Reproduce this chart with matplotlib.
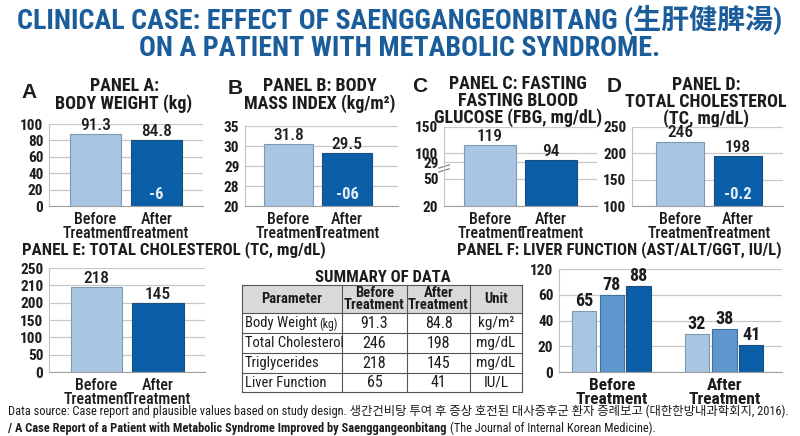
import matplotlib
matplotlib.use("Agg")
import matplotlib.pyplot as plt
from matplotlib import font_manager
from matplotlib.patches import Rectangle

W, H = 800, 436

names = {f.name for f in font_manager.fontManager.ttflist}
NARROW = next((n for n in ["Roboto Condensed", "Archivo Narrow", "Barlow Semi Condensed",
                           "Liberation Sans Narrow", "Liberation Sans"] if n in names), "DejaVu Sans")
WIDE = "Liberation Sans"
CJK_SC = [NARROW, "Noto Sans CJK SC", "DejaVu Sans"]
CJK_KR = [NARROW, "Noto Sans CJK KR", "DejaVu Sans"]
plt.rcParams["font.family"] = [NARROW, "DejaVu Sans"]

LIGHT = "#a8c6e4"
MID = "#5e98cf"
DARK = "#0b5ea8"
TITLE_BLUE = "#1b5c9b"
INK = "#1c1c1c"

groups = ["Before\nTreatment", "After\nTreatment"]

# Panel A: body weight (linear axis)
a_ticks = [0, 20, 40, 60, 80, 100]
a_tick_labels = ["0", "20", "40", "60", "80", "100"]
a_heights = [87.5, 80.0]
a_labels = ["91.3", "84.8"]

# Panel B: BMI (uneven axis, ticks placed evenly)
b_ticks = [0, 1, 2, 3, 4]
b_tick_labels = ["20", "28", "29", "30", "35"]
b_heights = [3.1, 2.65]
b_labels = ["31.8", "29.5"]

# Panel C: fasting blood glucose (broken axis)
c_ticks = [0, 1.03, 1.67, 2.0, 3.0]
c_tick_labels = ["20", "50", "29", "100", "150"]
c_heights = [2.32, 1.75]
c_labels = ["119", "94"]

# Panel D: total cholesterol (linear axis)
d_ticks = [100, 150, 200, 250]
d_tick_labels = ["100", "150", "200", "250"]
d_heights = [222, 195]
d_labels = ["246", "198"]

# Panel E: total cholesterol (uneven axis)
e_ticks = [0, 1, 2, 3, 4, 5, 6]
e_tick_labels = ["0", "50", "100", "150", "200", "210", "250"]
e_heights = [4.9, 3.98]
e_labels = ["218", "145"]

# Panel F: liver function, three enzymes per group
f_ticks = [0, 1, 2, 3, 4]
f_tick_labels = ["0", "20", "40", "60", "120"]
f_before = [2.37, 2.99, 3.34]
f_after = [1.48, 1.67, 1.05]
f_before_labels = ["65", "78", "88"]
f_after_labels = ["32", "38", "41"]

# Summary table
table_header = ["Parameter", "Before\nTreatment", "After\nTreatment", "Unit"]
table_params = ["Body Weight", "Total Cholesterol", "Triglycerides", "Liver Function"]
table_before = ["91.3", "246", "218", "65"]
table_after = ["84.8", "198", "145", "41"]
table_units = ["kg/m²", "mg/dL", "mg/dL", "IU/L"]

fig = plt.figure(figsize=(W / 100, H / 100), dpi=100)
fig.patch.set_facecolor("white")

overlay = fig.add_axes([0, 0, 1, 1], zorder=-1)
overlay.set_xlim(0, W)
overlay.set_ylim(H, 0)
overlay.axis("off")
renderer = fig.canvas.get_renderer()


def px_axes(left, top, right, bottom):
    return fig.add_axes([left / W, 1 - bottom / H, (right - left) / W, (bottom - top) / H])


def fit_width(txt, target):
    # shrink/grow a text so that it spans the width seen in the reference
    w = txt.get_window_extent(renderer).width
    txt.set_fontsize(txt.get_fontsize() * target / w)


def right_px(txt):
    bb = txt.get_window_extent(renderer)
    return overlay.transData.inverted().transform((bb.x1, 0))[0]


def style_axes(ax, ticks, tick_labels, xlim):
    ax.set_xlim(*xlim)
    ax.set_ylim(ticks[0], ticks[-1])
    ax.set_yticks(ticks)
    ax.set_yticklabels(tick_labels, fontsize=11, fontweight="bold", color=INK)
    ax.yaxis.grid(True, color="#c8c8c8", lw=0.9)
    ax.set_axisbelow(True)
    for s in ["top", "right"]:
        ax.spines[s].set_visible(False)
    ax.spines["left"].set_color("#c4c4c4")
    ax.spines["bottom"].set_color("#a0a0a0")
    ax.tick_params(length=0, pad=4)
    ax.set_facecolor("none")


def two_bar_panel(rect, ticks, tick_labels, heights, labels, xlim, width=0.84, inner=None):
    ax = px_axes(*rect)
    style_axes(ax, ticks, tick_labels, xlim)
    bars = ax.bar([0, 1], [h - ticks[0] for h in heights], bottom=ticks[0], width=width,
                  color=[LIGHT, DARK], edgecolor=["#8099b0", "#1d4d7c"], linewidth=0.8)
    for b, lab in zip(bars, labels):
        ax.annotate(lab, (b.get_x() + b.get_width() / 2, b.get_y() + b.get_height()),
                    xytext=(0, 1), textcoords="offset points", ha="center", va="bottom",
                    fontsize=12.5, fontweight="medium", color=INK)
    ax.set_xticks([0, 1])
    ax.set_xticklabels(groups, fontsize=11.5, fontweight="medium", color=INK, linespacing=0.92)
    if inner:
        ax.text(1.0, ticks[0] + (ticks[-1] - ticks[0]) * 0.14, inner, ha="center", va="center",
                fontsize=12, fontweight="bold", color="#e4edf7")
    return ax


ax_a = two_bar_panel((49, 124, 203, 206), a_ticks, a_tick_labels, a_heights, a_labels,
                     (-0.76, 1.76), inner="-6")
ax_b = two_bar_panel((245, 126, 398, 206), b_ticks, b_tick_labels, b_heights, b_labels,
                     (-0.74, 1.87), inner="-06")
ax_c = two_bar_panel((444, 127, 597, 206), c_ticks, c_tick_labels, c_heights, c_labels,
                     (-0.75, 1.75))
ax_d = two_bar_panel((632, 127, 783, 206), d_ticks, d_tick_labels, d_heights, d_labels,
                     (-0.83, 1.78), width=0.83, inner="-0.2")
ax_e = two_bar_panel((49, 268, 205, 372), e_ticks, e_tick_labels, e_heights, e_labels,
                     (-0.77, 1.76))

# axis break marks on panel C
for dy in (0.0, 0.05):
    ax_c.plot([-0.035, 0.035], [0.43 + dy, 0.47 + dy], transform=ax_c.transAxes,
              color="#888888", lw=0.9, clip_on=False)

# Panel F grouped bars
ax_f = px_axes(559, 269, 782, 372)
style_axes(ax_f, f_ticks, f_tick_labels, (-0.47, 1.51))
offsets = [-0.245, 0.0, 0.235]
colors = [LIGHT, MID, DARK]
edges = ["#8099b0", "#3f6f9e", "#1d4d7c"]
for i in range(3):
    bars = ax_f.bar([0 + offsets[i], 1 + offsets[i]], [f_before[i], f_after[i]], width=0.215,
                    color=colors[i], edgecolor=edges[i], linewidth=0.8)
    for b, lab in zip(bars, [f_before_labels[i], f_after_labels[i]]):
        ax_f.annotate(lab, (b.get_x() + b.get_width() / 2, b.get_height()),
                      xytext=(0, 1), textcoords="offset points", ha="center", va="bottom",
                      fontsize=13, fontweight="bold", color=INK)
ax_f.set_xticks([0, 1])
ax_f.set_xticklabels(groups, fontsize=12.5, fontweight="bold", color=INK, linespacing=0.92)

# Titles
t1 = overlay.text(400, 20, "CLINICAL CASE: EFFECT OF SAENGGANGEONBITANG (生肝健脾湯)",
                  ha="center", va="center", fontsize=20, fontweight="bold", color=TITLE_BLUE,
                  family=CJK_SC)
fit_width(t1, 765)
t2 = overlay.text(400, 49, "ON A PATIENT WITH METABOLIC SYNDROME.", ha="center", va="center",
                  fontsize=t1.get_fontsize(), fontweight="bold", color=TITLE_BLUE)

letter_kw = dict(ha="center", va="center", fontsize=15, fontweight="bold", color=INK, family=WIDE)
overlay.text(29, 92, "A", **letter_kw)
overlay.text(235, 88, "B", **letter_kw)
overlay.text(420, 87, "C", **letter_kw)
overlay.text(614, 87, "D", **letter_kw)

ptitle_kw = dict(ha="center", va="center", fontsize=13, fontweight="bold", color=INK,
                 linespacing=0.92)
overlay.text(124, 95, "PANEL A:\nBODY WEIGHT (kg)", **ptitle_kw)
overlay.text(320, 95, "PANEL B: BODY\nMASS INDEX (kg/m²)", **ptitle_kw)
overlay.text(518, 101, "PANEL C: FASTING\nFASTING BLOOD\nGLUCOSE (FBG, mg/dL)", **ptitle_kw)
overlay.text(706, 102, "PANEL D:\nTOTAL CHOLESTEROL\n(TC, mg/dL)", **ptitle_kw)
pe = overlay.text(22, 250, "PANEL E: TOTAL CHOLESTEROL (TC, mg/dL)", ha="left", va="center",
                  fontsize=13, fontweight="bold", color=INK)
fit_width(pe, 301)
pf = overlay.text(782, 250, "PANEL F: LIVER FUNCTION (AST/ALT/GGT, IU/L)", ha="right",
                  va="center", fontsize=13, fontweight="bold", color=INK)
fit_width(pf, 323)

# Summary table
overlay.text(383, 277, "SUMMARY OF DATA", ha="center", va="center", fontsize=12,
             fontweight="bold", color=INK)
col_x = [242, 342, 407, 470, 522]
row_y = [285, 313, 333, 353, 373, 392]
overlay.add_patch(Rectangle((col_x[0], row_y[0]), col_x[-1] - col_x[0], row_y[1] - row_y[0],
                            facecolor="#d9d9d9", edgecolor="none"))
for x in col_x:
    overlay.plot([x, x], [row_y[0], row_y[-1]], color="#555555", lw=0.8)
for y in row_y:
    overlay.plot([col_x[0], col_x[-1]], [y, y], color="#555555", lw=0.8)
for j, head in enumerate(table_header):
    overlay.text((col_x[j] + col_x[j + 1]) / 2, (row_y[0] + row_y[1]) / 2, head, ha="center",
                 va="center", fontsize=10.5, fontweight="bold", color=INK, linespacing=0.88)
for i in range(4):
    yc = (row_y[i + 1] + row_y[i + 2]) / 2
    t = overlay.text(col_x[0] + 3, yc, table_params[i], ha="left", va="center", fontsize=10.5,
                     color=INK)
    if i == 0:
        overlay.text(right_px(t) + 2, yc + 1, "(kg)", ha="left", va="center", fontsize=8.5,
                     color=INK)
    overlay.text((col_x[1] + col_x[2]) / 2, yc, table_before[i], ha="center", va="center",
                 fontsize=11.5, color=INK)
    overlay.text((col_x[2] + col_x[3]) / 2, yc, table_after[i], ha="center", va="center",
                 fontsize=11.5, color=INK)
    overlay.text((col_x[3] + col_x[4]) / 2, yc, table_units[i], ha="center", va="center",
                 fontsize=11, color=INK)

# Footer
f1 = overlay.text(8, 411, "Data source: Case report and plausible values based on study design. "
                  "생간건비탕 투여 후 증상 호전된 대사증후군 환자 증례보고 (대한한방내과학회지, 2016).",
                  ha="left", va="center", fontsize=10, color=INK, family=CJK_KR)
fit_width(f1, 780)
bold_part = overlay.text(8, 428, "/ A Case Report of a Patient with Metabolic Syndrome Improved "
                         "by Saenggangeonbitang", ha="left", va="center",
                         fontsize=f1.get_fontsize(), fontweight="bold", color=INK)
overlay.text(right_px(bold_part) + 3, 428, "(The Journal of Internal Korean Medicine).",
             ha="left", va="center", fontsize=f1.get_fontsize(), color=INK)

fig.savefig("out.png", dpi=100, facecolor="white")
